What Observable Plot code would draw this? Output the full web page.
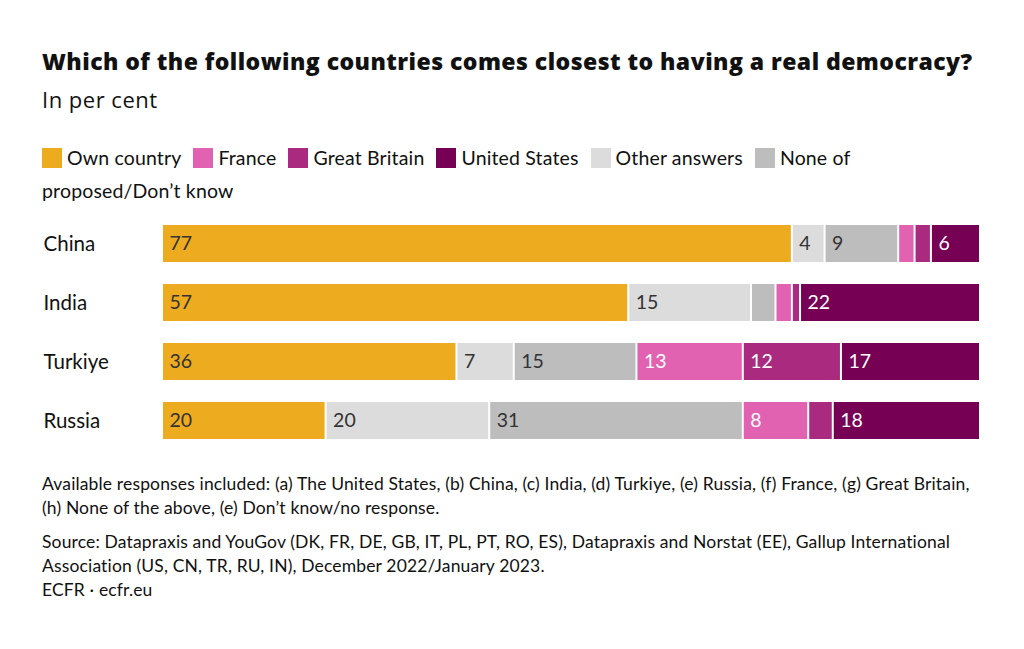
<!DOCTYPE html>
<html>
<head>
<meta charset="utf-8">
<script src="https://cdn.jsdelivr.net/npm/d3@7"></script>
<script src="https://cdn.jsdelivr.net/npm/@observablehq/plot@0.6"></script>
<style>
  html, body { margin: 0; padding: 0; background: #fff; }
  body { width: 1024px; height: 649px; position: relative; font-family: Lato, "Open Sans", sans-serif; color: #111; overflow: hidden; }
  .abs { position: absolute; left: 42px; }
  #title { top: 45px; font-family: "Open Sans", sans-serif; font-size: 23px; font-weight: 800; letter-spacing: 0.45px; white-space: nowrap; }
  #subtitle { top: 84px; font-family: "Open Sans", sans-serif; font-size: 22px; letter-spacing: 0.5px; }
  #legend { top: 141px; font-size: 19.5px; letter-spacing: 0.15px; line-height: 33px; width: 900px; }
  #legend .item { display: inline-block; margin-right: 12px; }
  #legend .sw { display: inline-block; width: 20px; height: 20px; vertical-align: -3px; margin-right: 5px; }
  #chart { position: absolute; left: 0; top: 201px; }
  #caption { top: 472px; font-size: 17.5px; letter-spacing: 0.15px; line-height: 24px; width: 980px; white-space: nowrap; }
  #caption p { margin: 0 0 10px 0; }
</style>
</head>
<body>
<div id="title" class="abs">Which of the following countries comes closest to having a real democracy?</div>
<div id="subtitle" class="abs">In per cent</div>
<div id="legend" class="abs"></div>
<div id="chart"></div>
<div id="caption" class="abs">
  <p>Available responses included: (a) The United States, (b) China, (c) India, (d) Turkiye, (e) Russia, (f) France, (g) Great Britain,<br>(h) None of the above, (e) Don’t know/no response.</p>
  <p style="margin-bottom:0">Source: Datapraxis and YouGov (DK, FR, DE, GB, IT, PL, PT, RO, ES), Datapraxis and Norstat (EE), Gallup International<br>Association (US, CN, TR, RU, IN), December 2022/January 2023.</p>
  <p>ECFR · ecfr.eu</p>
</div>
<script>
const countries = ["China", "India", "Turkiye", "Russia"];
const stackCategories = ["Own country", "Other answers", "None of proposed/Don’t know", "France", "Great Britain", "United States"];
const legendOrder = ["Own country", "France", "Great Britain", "United States", "Other answers", "None of proposed/Don’t know"];
const ownCountry   = [77, 57, 36, 20];
const otherAnswers = [4, 15, 7, 20];
const noneDontKnow = [9, 3, 15, 31];
const france       = [2, 2, 13, 8];
const greatBritain = [2, 1, 12, 3];
const unitedStates = [6, 22, 17, 18];
const colors = ["#EDAC1F", "#DCDCDC", "#BDBDBD", "#E062B1", "#AA2A7F", "#760053"];
const textColors = ["#333333", "#333333", "#333333", "#ffffff", "#ffffff", "#ffffff"];

const series = [ownCountry, otherAnswers, noneDontKnow, france, greatBritain, unitedStates];
const data = [];
countries.forEach((c, i) => {
  stackCategories.forEach((cat, j) => {
    data.push({country: c, category: cat, value: series[j][i]});
  });
});
const textColorOf = Object.fromEntries(stackCategories.map((c, j) => [c, textColors[j]]));

// legend
const legend = document.getElementById("legend");
legendOrder.forEach((cat) => {
  const j = stackCategories.indexOf(cat);
  const span = document.createElement("span");
  span.className = "item";
  const label = cat === "None of proposed/Don’t know" ? "None of<br>proposed/Don’t know" : cat;
  span.innerHTML = `<span class="sw" style="background:${colors[j]}"></span>${label}`;
  if (cat.startsWith("None")) span.style.display = "inline";
  legend.appendChild(span);
});

const chart = Plot.plot({
  width: 1024,
  height: 262,
  marginLeft: 162,
  marginRight: 44,
  marginTop: 0,
  marginBottom: 0,
  style: {fontFamily: "Lato, 'Open Sans', sans-serif", fontSize: "19px", background: "transparent"},
  x: {domain: [0, 100], axis: null},
  y: {domain: countries, padding: 0.367, axis: null},
  color: {domain: stackCategories, range: colors},
  marks: [
    Plot.barX(data, Plot.stackX({x: "value", y: "country", fill: "category", insetLeft: 1, insetRight: 1, order: null})),
    Plot.text(data, Plot.stackX1({
      x: "value", y: "country", order: null,
      text: d => d.value >= 4 ? String(d.value) : "",
      textAnchor: "start", dx: 7,
      fill: d => textColorOf[d.category],
      fontSize: 19.5
    })),
    Plot.text(countries, {y: d => d, frameAnchor: "left", textAnchor: "start", dx: -119, fill: "#111", fontSize: 20.5})
  ]
});
document.getElementById("chart").appendChild(chart);
</script>
</body>
</html>
